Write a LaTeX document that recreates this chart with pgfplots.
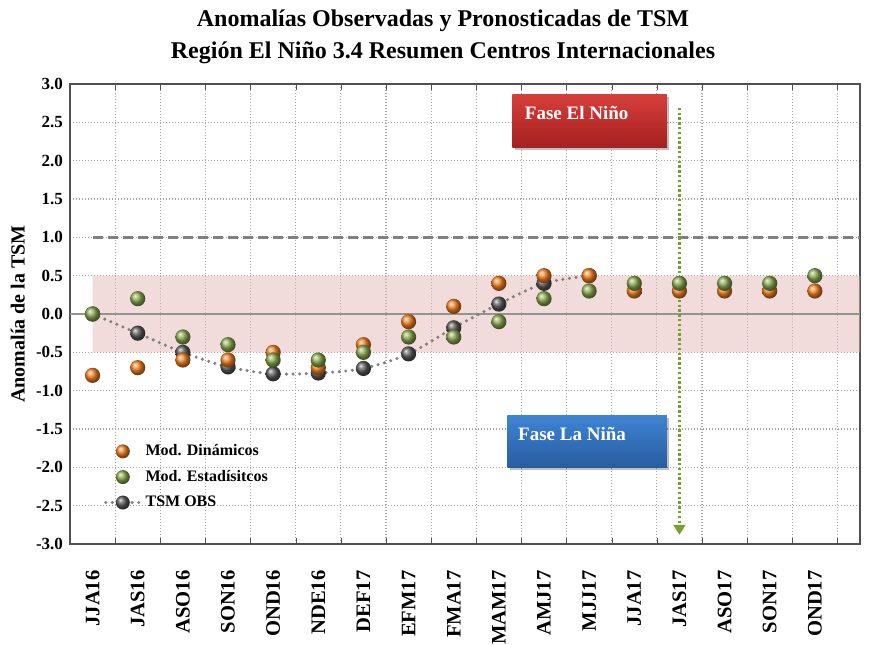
\documentclass[border=0pt]{standalone}
\usepackage{pgfplots}
\pgfplotsset{compat=1.18}
\usepackage{fontspec}
\setmainfont{Liberation Serif}
\usetikzlibrary{arrows.meta}
\definecolor{dynC}{RGB}{245,130,35}
\definecolor{statC}{RGB}{140,172,80}
\definecolor{obsC}{RGB}{90,90,90}
\definecolor{bandC}{RGB}{229,185,183}
\definecolor{lineC}{RGB}{128,128,128}
\definecolor{gridC}{RGB}{165,165,165}
\definecolor{arrowC}{RGB}{118,160,50}
\definecolor{axisC}{RGB}{80,80,80}
\definecolor{redT}{RGB}{214,62,58}
\definecolor{redB}{RGB}{165,32,32}
\definecolor{blueT}{RGB}{62,132,212}
\definecolor{blueB}{RGB}{40,92,160}

\pgfplotstableread{
x y
0 -0.8
1 -0.7
2 -0.6
3 -0.6
4 -0.5
5 -0.7
6 -0.4
7 -0.1
8 0.1
9 0.4
10 0.5
11 0.5
12 0.3
13 0.3
14 0.3
15 0.3
16 0.3
}\dyn
\pgfplotstableread{
x y
0 0.0
1 0.2
2 -0.3
3 -0.4
4 -0.6
5 -0.6
6 -0.5
7 -0.3
8 -0.3
9 -0.1
10 0.2
11 0.3
12 0.4
13 0.4
14 0.4
15 0.4
16 0.5
}\stat
\pgfplotstableread{
x y
0 0.0
1 -0.25
2 -0.5
3 -0.69
4 -0.78
5 -0.77
6 -0.71
7 -0.52
8 -0.18
9 0.13
10 0.4
11 0.5
}\obs

\begin{document}
\begin{tikzpicture}
\begin{axis}[
  at={(0,0)}, anchor=south west,
  scale only axis, width=395pt, height=230pt,
  xmin=-0.5, xmax=17, ymin=-3, ymax=3,
  xtick={0,...,16},
  xticklabels={JJA16,JAS16,ASO16,SON16,OND16,NDE16,DEF17,EFM17,FMA17,MAM17,AMJ17,MJJ17,JJA17,JAS17,ASO17,SON17,OND17},
  minor xtick={0.5,1.5,...,16.5},
  xminorgrids, xmajorgrids=false,
  ytick={-3,-2.5,...,3},
  ymajorgrids,
  grid style={gridC, line width=0.6pt, dash pattern=on 0.6pt off 0.9pt},
  minor grid style={gridC, line width=0.6pt, dash pattern=on 0.6pt off 0.9pt},
  major tick length=0pt, minor tick length=3pt,
  minor tick style={axisC},
  axis line style={axisC, line width=1.2pt},
  yticklabel style={font=\bfseries\fontsize{8.5}{8.5}\selectfont,
     /pgf/number format/.cd, fixed, fixed zerofill, precision=1, assume math mode=true},
  xticklabel style={rotate=90, anchor=east, font=\bfseries\fontsize{10.3}{10.3}\selectfont, inner sep=0pt},
  xticklabel shift=13pt,
  ylabel={Anomalía de la TSM},
  ylabel style={at={(axis description cs:-0.066,0.5)}, anchor=center, font=\bfseries\fontsize{10}{10}\selectfont},
  legend style={at={(axis description cs:0.035,0.235)}, anchor=north west, draw=none, fill=none,
     font=\bfseries\fontsize{8}{8}\selectfont, row sep=1.8pt},
  legend cell align=left,
]
\addplot[draw=none, fill=bandC, fill opacity=0.5, forget plot] coordinates {(0,-0.5) (17,-0.5) (17,0.5) (0,0.5) (0,-0.5)};
\addplot[forget plot, lineC!85, line width=1pt] coordinates {(-0.5,0) (17,0)};
\addplot[forget plot, lineC, line width=1.5pt, dash pattern=on 5pt off 2.5pt] coordinates {(0,1) (17,1)};

\addplot[forget plot, smooth, lineC, line width=1.7pt, dash pattern=on 0pt off 3.3pt, line cap=round,
   mark=ball, mark size=3.8pt, mark options={solid, draw opacity=0, ball color=obsC}] table[x=x,y=y] {\obs};
\addplot[forget plot, only marks, mark=ball, mark size=3.8pt, mark options={draw opacity=0, ball color=dynC}] table[x=x,y=y] {\dyn};
\addplot[forget plot, only marks, mark=ball, mark size=3.8pt, mark options={draw opacity=0, ball color=statC}] table[x=x,y=y] {\stat};

\addlegendimage{only marks, mark=ball, mark size=3.5pt, mark options={draw opacity=0, ball color=dynC}}
\addlegendentry{Mod. Dinámicos}
\addlegendimage{only marks, mark=ball, mark size=3.5pt, mark options={draw opacity=0, ball color=statC}}
\addlegendentry{Mod. Estadísitcos}
\addlegendimage{lineC, line width=1.7pt, dash pattern=on 0pt off 3.3pt, line cap=round, mark=ball, mark size=3.5pt, mark options={solid, draw opacity=0, ball color=obsC}}
\addlegendentry{TSM OBS}

\fill[black, opacity=0.25] ([xshift=1.2pt,yshift=-1.2pt]axis cs:9.3,2.17) rectangle ([xshift=1.2pt,yshift=-1.2pt]axis cs:12.72,2.86);
\path[top color=redT, bottom color=redB] (axis cs:9.3,2.17) rectangle (axis cs:12.72,2.86);
\node[anchor=west, text=white, inner sep=0pt, font=\bfseries\fontsize{9.5}{9.5}\selectfont] at (axis cs:9.57,2.62) {Fase El Niño};
\fill[black, opacity=0.25] ([xshift=1.2pt,yshift=-1.2pt]axis cs:9.19,-2.0) rectangle ([xshift=1.2pt,yshift=-1.2pt]axis cs:12.72,-1.32);
\path[top color=blueT, bottom color=blueB] (axis cs:9.19,-2.0) rectangle (axis cs:12.72,-1.32);
\node[anchor=west, text=white, inner sep=0pt, font=\bfseries\fontsize{9.5}{9.5}\selectfont] at (axis cs:9.42,-1.56) {Fase La Niña};

\draw[arrowC, line width=1.3pt, dash pattern=on 1.2pt off 1.2pt, -{Triangle[length=5pt,width=6pt]}] (axis cs:13,2.69) -- (axis cs:13,-2.88);
\end{axis}
\node[anchor=north, align=center, font=\bfseries\fontsize{12}{16}\selectfont] at (186.5pt,270.5pt)
  {Anomalías Observadas y Pronosticadas de TSM\\Región El Niño 3.4 Resumen Centros Internacionales};
\useasboundingbox (-35pt,-42pt) rectangle (401pt,272pt);
\end{tikzpicture}
\end{document}
